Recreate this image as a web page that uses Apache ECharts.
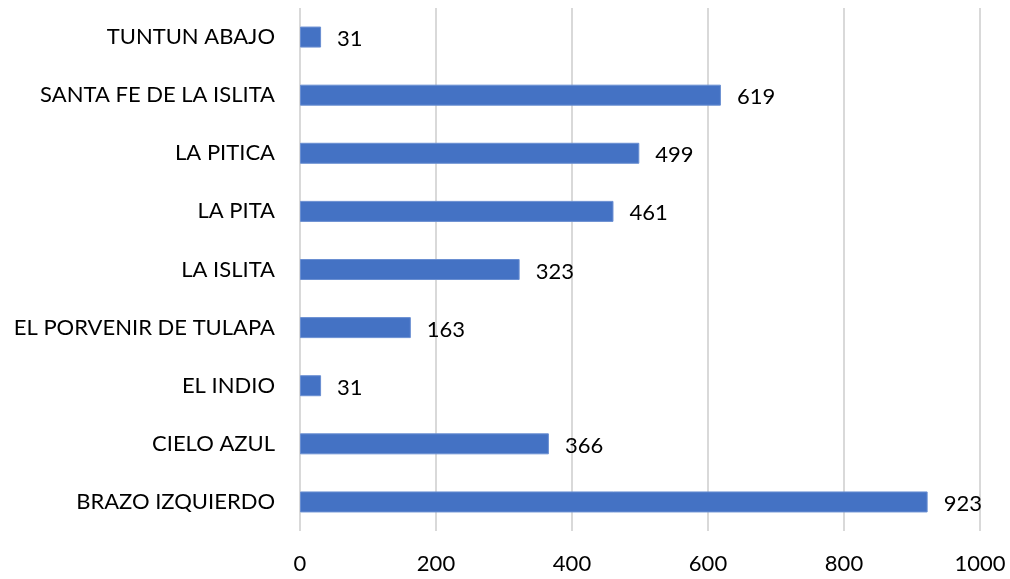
<!DOCTYPE html>
<html>
<head>
<meta charset="utf-8">
<script src="https://cdn.jsdelivr.net/npm/echarts@6/dist/echarts.min.js"></script>
<style>
  html, body { margin: 0; padding: 0; background: #fff; }
  #chart { width: 1010px; height: 579px; }
</style>
</head>
<body>
<div id="chart"></div>
<script>
var categories = ['BRAZO IZQUIERDO', 'CIELO AZUL', 'EL INDIO', 'EL PORVENIR DE TULAPA',
                  'LA ISLITA', 'LA PITA', 'LA PITICA', 'SANTA FE DE LA ISLITA', 'TUNTUN ABAJO'];
var values = [923, 366, 31, 163, 323, 461, 499, 619, 31];
var xTicks = [0, 200, 400, 600, 800, 1000];

var myChart = echarts.init(document.getElementById('chart'));
var option = {
    animation: false,
    textStyle: { fontFamily: 'Lato' },
    grid: { left: 300, right: 30, top: 8, bottom: 48 },
    xAxis: {
        type: 'value',
        min: xTicks[0],
        max: xTicks[xTicks.length - 1],
        interval: 200,
        axisLine: { show: false },
        axisTick: { show: false },
        axisLabel: { color: '#000', fontSize: 22, margin: 22, formatter: function (v) { return String(v); } },
        splitLine: { lineStyle: { color: '#d9d9d9', width: 2 } }
    },
    yAxis: {
        type: 'category',
        data: categories,
        axisLine: { show: false },
        axisTick: { show: false },
        axisLabel: { color: '#000', fontSize: 22, margin: 25 }
    },
    series: [{
        type: 'bar',
        data: values,
        barWidth: 21,
        itemStyle: { color: '#4472c4', borderColor: '#6a8fd2', borderWidth: 1 },
        label: {
            show: true,
            position: 'right',
            distance: 16,
            offset: [0, 2],
            color: '#000',
            fontSize: 22,
            fontFamily: 'Lato'
        }
    }]
};
myChart.setOption(option);
</script>
</body>
</html>
